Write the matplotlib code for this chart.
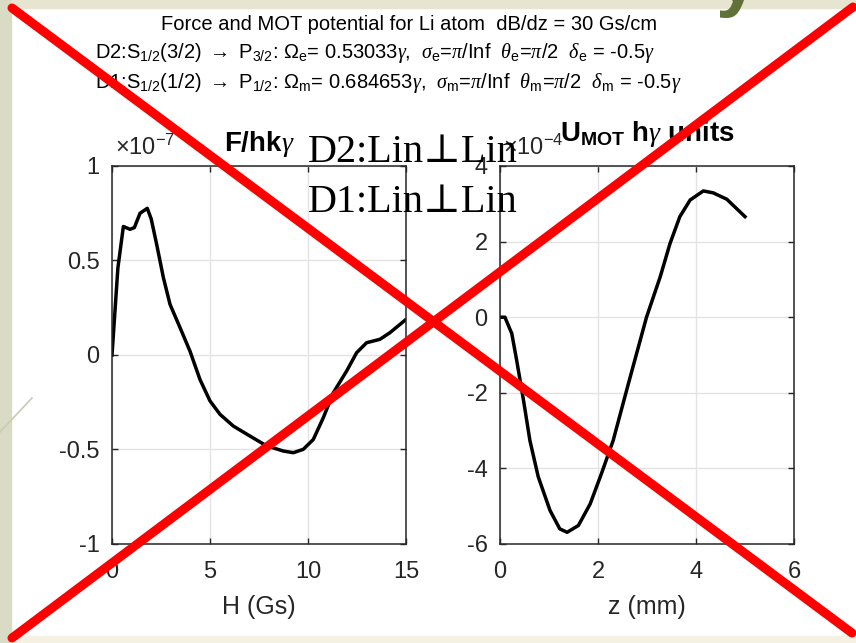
import numpy as np
import matplotlib
matplotlib.use("Agg")
import matplotlib.pyplot as plt
from matplotlib.lines import Line2D
from matplotlib.patches import Rectangle

plt.rcParams['font.family'] = ['Liberation Sans', 'DejaVu Sans']
plt.rcParams['mathtext.fontset'] = 'custom'
plt.rcParams['mathtext.rm'] = 'Liberation Sans'
plt.rcParams['mathtext.it'] = 'Liberation Serif:italic'
plt.rcParams['mathtext.bf'] = 'Liberation Sans:bold'
plt.rcParams['axes.unicode_minus'] = False

# force vs field (units of 1e-7)
H_gs = [0, 0.3, 0.58, 0.92, 1.14, 1.43, 1.8, 2.0, 2.28, 2.62, 2.96, 3.47, 3.98,
        4.49, 5.0, 5.51, 6.19, 7.04, 7.89, 8.74, 9.25, 9.76, 10.27, 10.78,
        11.29, 11.97, 12.48, 12.99, 13.67, 14.18, 14.95]
F_hk = [0, 0.46, 0.68, 0.665, 0.674, 0.75, 0.776, 0.72, 0.585, 0.41, 0.268,
        0.145, 0.02, -0.13, -0.243, -0.314, -0.376, -0.429, -0.481, -0.508,
        -0.517, -0.499, -0.447, -0.332, -0.2, -0.085, 0.012, 0.065, 0.083,
        0.118, 0.184]

# MOT potential vs position (units of 1e-4)
z_mm = [0, 0.1, 0.24, 0.34, 0.48, 0.61, 0.78, 1.02, 1.22, 1.37, 1.6, 1.84,
        2.07, 2.31, 2.62, 2.99, 3.27, 3.47, 3.67, 3.88, 4.15, 4.35, 4.63, 5.0]
U_mot = [0, 0, -0.43, -1.14, -2.2, -3.26, -4.22, -5.11, -5.6, -5.69, -5.51,
         -4.94, -4.14, -3.26, -1.76, 0, 1.07, 1.95, 2.66, 3.1, 3.34, 3.29,
         3.12, 2.66]

left_yticks = [-1, -0.5, 0, 0.5, 1]
left_xticks = [0, 5, 10, 15]
right_yticks = [-6, -4, -2, 0, 2, 4]
right_xticks = [0, 2, 4, 6]

W, Hh = 856, 643
fig = plt.figure(figsize=(W / 100, Hh / 100), dpi=100)
fig.patch.set_facecolor('white')

def fx(px):
    return px / W

def fy(py):
    return 1 - py / Hh

# slide frame
fig.add_artist(Rectangle((0, 0), fx(11), 1, transform=fig.transFigure,
                         color='#d9dbc4', zorder=0))
fig.add_artist(Rectangle((fx(11), fy(8)), 1, fy(0) - fy(8), transform=fig.transFigure,
                         color='#e7e4d0', zorder=0))
fig.add_artist(Rectangle((fx(11), 0), 1, fy(636), transform=fig.transFigure,
                         color='#f4f0e2', zorder=0))
fig.add_artist(Line2D([0, fx(32)], [fy(432), fy(398)], transform=fig.transFigure,
                      color='#c9cbb4', lw=1.2, zorder=0))
fig.text(fx(737), fy(2), 'y', fontsize=56, fontweight='bold', color='#617238',
         ha='center', va='baseline', zorder=1)

tick_col = '#262626'

def style(ax):
    ax.grid(True, color='#e3e3e3', lw=1)
    ax.set_axisbelow(True)
    ax.tick_params(direction='in', length=4, width=1, top=True, right=True,
                   labelsize=17, colors=tick_col)
    ax.tick_params(axis='x', pad=12)
    ax.tick_params(axis='y', pad=9)
    for s in ax.spines.values():
        s.set_color(tick_col)
        s.set_linewidth(1.1)

ax1 = fig.add_axes([fx(112), fy(544), fx(406) - fx(112), fy(166) - fy(544)])
ax1.plot(H_gs, F_hk, color='black', lw=2.5)
ax1.set_xlim(0, 15)
ax1.set_ylim(-1, 1)
ax1.set_xticks(left_xticks)
ax1.set_yticks(left_yticks)
ax1.set_yticklabels(['%g' % v for v in left_yticks])
style(ax1)
ax1.set_xlabel('H (Gs)', fontsize=18, color=tick_col, labelpad=9)
ax1.set_title(r'F/hk$\gamma$', fontsize=20, fontweight='bold', pad=11)
ax1.text(0.01, 1.015, r'$\times\mathrm{10^{-7}}$', transform=ax1.transAxes,
         fontsize=17, color=tick_col, ha='left', va='bottom')

ax2 = fig.add_axes([fx(500), fy(544), fx(794) - fx(500), fy(166) - fy(544)])
ax2.plot(z_mm, U_mot, color='black', lw=2.5)
ax2.set_xlim(0, 6)
ax2.set_ylim(-6, 4)
ax2.set_xticks(right_xticks)
ax2.set_yticks(right_yticks)
style(ax2)
ax2.set_xlabel('z (mm)', fontsize=18, color=tick_col, labelpad=9)
ax2.set_title(r'$\mathbf{U_{MOT}}$ h$\gamma$ units', fontsize=20,
              fontweight='bold', pad=18)
ax2.text(0.01, 1.015, r'$\times\mathrm{10^{-4}}$', transform=ax2.transAxes,
         fontsize=17, color=tick_col, ha='left', va='bottom')

# header
fig.text(fx(409), fy(25), 'Force and MOT potential for Li atom  dB/dz = 30 Gs/cm',
         fontsize=14.5, ha='center', va='center')
fig.text(fx(95), fy(53),
         r'D2:S$_{\mathrm{1/2}}$(3/2) $\rightarrow$ P$_{\mathrm{3/2}}$: '
         r'$\Omega_\mathrm{e}$= 0.53033$\gamma$,  $\sigma_\mathrm{e}$=$\pi$/Inf  '
         r'$\theta_\mathrm{e}$=$\pi$/2  $\delta_\mathrm{e}$ = -0.5$\gamma$',
         fontsize=14.5, ha='left', va='center')
fig.text(fx(95), fy(83),
         r'D1:S$_{\mathrm{1/2}}$(1/2) $\rightarrow$ P$_{\mathrm{1/2}}$: '
         r'$\Omega_\mathrm{m}$= 0.684653$\gamma$,  $\sigma_\mathrm{m}$=$\pi$/Inf  '
         r'$\theta_\mathrm{m}$=$\pi$/2  $\delta_\mathrm{m}$ = -0.5$\gamma$',
         fontsize=14.5, ha='left', va='center')

serif = ['Liberation Serif', 'DejaVu Serif']
fig.text(fx(308), fy(162), 'D2:Lin\u22a5Lin', fontsize=29, family=serif,
         ha='left', va='baseline')
fig.text(fx(308), fy(212), 'D1:Lin\u22a5Lin', fontsize=29, family=serif,
         ha='left', va='baseline')

# crossing strokes
for (x0, y0), (x1, y1) in [((12, 8), (852, 633)), ((12, 638), (853, 7))]:
    fig.add_artist(Line2D([fx(x0), fx(x1)], [fy(y0), fy(y1)], transform=fig.transFigure,
                          color='#ff0000', lw=6.5, solid_capstyle='round', zorder=10))

fig.savefig('out.png', dpi=100, facecolor=fig.get_facecolor())
